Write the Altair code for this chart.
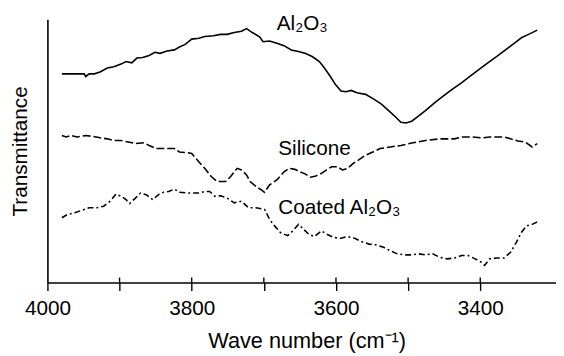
import altair as alt
import pandas as pd

# ---- data (wave number in cm^-1, transmittance in arbitrary units) ----
al_wn = [3980, 3949, 3947, 3942, 3935, 3927, 3917, 3908, 3898, 3891, 3883, 3876, 3868, 3859,
         3851, 3844, 3834, 3824, 3817, 3809, 3800, 3790, 3782, 3770, 3760, 3751, 3741, 3731,
         3724, 3716, 3706, 3701, 3692, 3682, 3672, 3662, 3652, 3643, 3633, 3623, 3616, 3608,
         3601, 3593, 3586, 3579, 3571, 3559, 3547, 3537, 3527, 3517, 3510, 3503, 3495, 3488,
         3476, 3463, 3451, 3439, 3426, 3414, 3402, 3390, 3377, 3365, 3353, 3343, 3333, 3321]
al_t = [79.3, 79.3, 78.3, 79.3, 79.3, 80.0, 81.5, 82.0, 83.0, 84.0, 83.5, 85.3, 85.5, 86.3,
        87.5, 87.1, 88.0, 88.4, 89.5, 90.5, 92.5, 92.8, 93.5, 93.8, 94.3, 94.3, 95.0, 95.5,
        96.5, 95.0, 93.4, 91.5, 91.8, 90.9, 90.0, 88.4, 87.8, 87.1, 85.9, 84.0, 81.5, 78.4,
        75.3, 72.8, 72.5, 73.0, 72.1, 71.5, 69.6, 67.8, 65.3, 62.8, 60.9, 60.6, 61.3, 62.8,
        65.3, 68.4, 70.9, 73.4, 75.9, 78.4, 80.9, 83.4, 85.9, 88.4, 90.9, 93.0, 94.3, 95.9]

si_wn = [3980, 3974, 3967, 3959, 3947, 3937, 3927, 3917, 3908, 3898, 3888, 3878, 3866, 3859,
         3849, 3834, 3824, 3817, 3805, 3800, 3792, 3782, 3773, 3765, 3753, 3746, 3737, 3731,
         3724, 3719, 3711, 3704, 3699, 3692, 3682, 3672, 3665, 3657, 3650, 3643, 3635, 3628,
         3620, 3613, 3606, 3598, 3591, 3584, 3576, 3569, 3559, 3549, 3539, 3525, 3510, 3495,
         3476, 3456, 3436, 3426, 3412, 3397, 3387, 3377, 3367, 3358, 3348, 3338, 3328, 3321]
si_t = [55.9, 55.3, 55.9, 55.3, 55.9, 55.5, 55.0, 54.6, 54.0, 54.0, 53.4, 52.8, 53.1, 52.1,
        50.9, 50.9, 50.9, 49.6, 49.3, 49.0, 46.5, 43.4, 40.3, 38.4, 38.4, 40.3, 43.4, 42.8,
        40.9, 38.4, 36.5, 35.3, 34.3, 37.1, 39.0, 42.1, 43.4, 43.0, 42.1, 41.3, 40.0, 40.5,
        41.5, 42.8, 44.0, 44.0, 42.8, 43.4, 45.3, 46.5, 48.4, 49.6, 50.9, 51.5, 52.1, 53.0,
        54.0, 54.6, 54.6, 55.3, 55.3, 55.0, 55.3, 55.3, 55.3, 54.6, 53.8, 53.4, 51.5, 52.8]

co_wn = [3980, 3972, 3962, 3952, 3942, 3932, 3922, 3913, 3905, 3898, 3891, 3886, 3878, 3871,
         3863, 3854, 3846, 3839, 3832, 3824, 3817, 3805, 3790, 3782, 3775, 3768, 3760, 3751,
         3741, 3731, 3721, 3711, 3699, 3692, 3687, 3677, 3667, 3660, 3652, 3645, 3638, 3630,
         3620, 3613, 3603, 3593, 3584, 3574, 3564, 3554, 3544, 3534, 3525, 3515, 3505, 3495,
         3485, 3476, 3466, 3456, 3446, 3436, 3426, 3417, 3407, 3399, 3394, 3387, 3377, 3367,
         3358, 3350, 3343, 3336, 3328, 3321]
co_t = [24.6, 25.9, 26.5, 27.5, 28.4, 28.4, 29.0, 30.9, 33.6, 32.8, 31.5, 30.0, 32.1, 34.0,
        33.4, 31.5, 33.4, 34.3, 34.6, 35.5, 34.3, 34.0, 34.0, 34.6, 34.6, 32.8, 33.0, 32.1,
        30.3, 30.9, 28.4, 28.4, 27.8, 24.0, 22.1, 19.0, 17.8, 19.6, 22.1, 20.3, 18.4, 17.5,
        19.6, 18.4, 17.1, 16.8, 17.5, 16.8, 15.5, 14.6, 14.3, 13.4, 12.1, 10.9, 10.5, 10.5,
        10.9, 10.5, 10.9, 9.6, 9.0, 9.3, 10.3, 10.3, 9.0, 7.8, 6.5, 9.0, 9.3, 9.3,
        11.5, 15.3, 19.0, 21.5, 22.1, 23.0]

series_names = ["Al2O3", "Silicone", "Coated"]

label_text = ["Al\u2082O\u2083", "Silicone", "Coated Al\u2082O\u2083"]
label_wn = [3682, 3680, 3680]
label_t = [95.9, 48.3, 26.2]

tick_values = [4000, 3900, 3800, 3700, 3600, 3500, 3400]

# ---- build tables ----
rows = []
for name, wn, t in zip(series_names, [al_wn, si_wn, co_wn], [al_t, si_t, co_t]):
    for i, (w, v) in enumerate(zip(wn, t)):
        rows.append({"series": name, "wn": w, "t": v, "order": i})
df = pd.DataFrame(rows)
labels = pd.DataFrame({"text": label_text, "wn": label_wn, "t": label_t})
ticks = pd.DataFrame({"wn": tick_values[1:]})

FONT = "Liberation Sans"
W, H = 516, 267

xscale = alt.Scale(domain=[3295, 4000], reverse=True, nice=False, zero=False)
yscale = alt.Scale(domain=[0, 100], nice=False, zero=False)

xaxis = alt.Axis(
    values=tick_values, format="d",
    labelExpr="datum.value % 200 == 0 ? datum.label : ''",
    labelFlush=False, labelOverlap=False,
    labelFont=FONT, labelFontSize=21, labelColor="black", labelPadding=7,
    tickSize=8, tickWidth=1.4, tickColor="black",
    domainColor="black", domainWidth=1.6, grid=False,
    title="Wave number (cm\u207b\u00b9)", titleFont=FONT, titleFontSize=22,
    titleFontWeight="normal", titleColor="black",
    titleBaseline="alphabetic", titleY=66, titleX=263,
)
yaxis = alt.Axis(
    ticks=False, labels=False, grid=False,
    domainColor="black", domainWidth=1.6,
    title="Transmittance", titleFont=FONT, titleFontSize=21,
    titleFontWeight="normal", titleColor="black",
    titleAngle=270, titleAlign="center", titleBaseline="middle",
    titleX=-27, titleY=H / 2,
)


def line(name, dash):
    kw = dict(color="black", strokeWidth=1.6, clip=True)
    if dash:
        kw["strokeDash"] = dash
    return alt.Chart(df).transform_filter(alt.datum.series == name).mark_line(**kw).encode(
        x=alt.X("wn:Q", scale=xscale, axis=xaxis),
        y=alt.Y("t:Q", scale=yscale, axis=yaxis),
        order="order:Q",
    )

l1 = line("Al2O3", None)
l2 = line("Silicone", [8, 3])
l3 = line("Coated", [6, 3, 2, 3])

text = alt.Chart(labels).mark_text(
    font=FONT, fontSize=21, color="black", align="left", baseline="alphabetic"
).encode(
    x=alt.X("wn:Q", scale=xscale),
    y=alt.Y("t:Q", scale=yscale),
    text="text:N",
)

uticks = alt.Chart(ticks).mark_rule(color="black", strokeWidth=1.4).encode(
    x=alt.X("wn:Q", scale=xscale),
    y=alt.value(H - 5),
    y2=alt.value(H),
)

chart = alt.layer(l1, l2, l3, text, uticks).properties(
    width=W, height=H,
    autosize=alt.AutoSizeParams(type="none"),
    padding={"left": 40, "top": 9, "right": 0, "bottom": 72},
    background="white",
).configure_view(stroke=None)

chart.save("out.html", embed_options={"renderer": "svg", "actions": False})
